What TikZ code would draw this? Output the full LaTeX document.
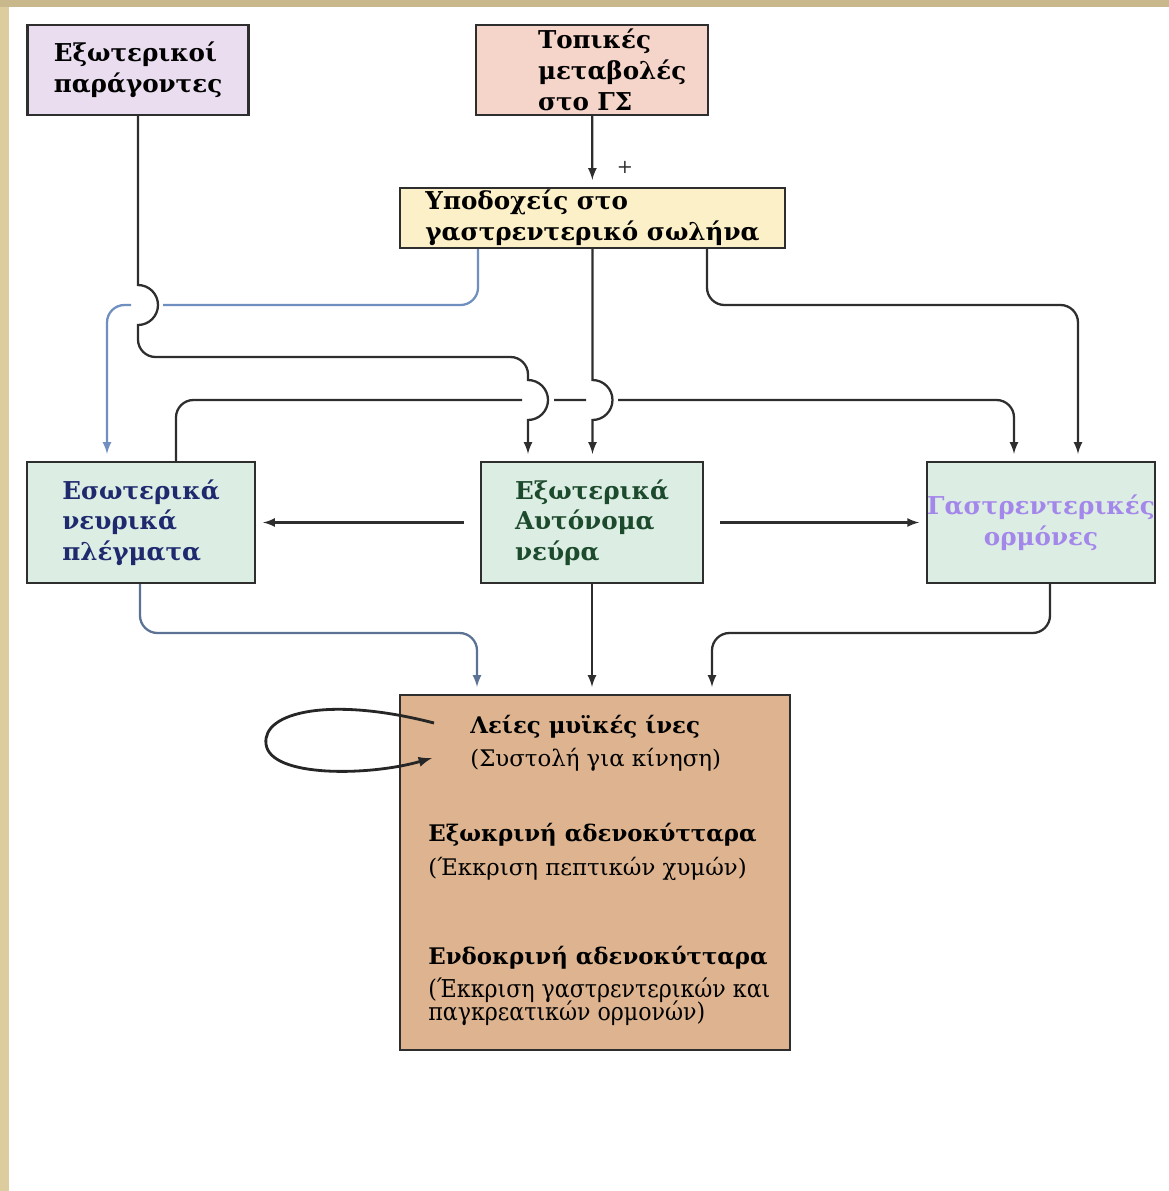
\documentclass[tikz,border=0pt]{standalone}
\usepackage{fontspec}
\setmainfont{DejaVu Serif}
\newfontfamily\condfont{DejaVu Serif Condensed}

\definecolor{frametop}{HTML}{C8B88C}
\definecolor{frameleft}{HTML}{DCCC9E}
\definecolor{extfill}{HTML}{E9DDEF}
\definecolor{localfill}{HTML}{F5D4C9}
\definecolor{recfill}{HTML}{FBF0C8}
\definecolor{nervefill}{HTML}{DCEDE3}
\definecolor{targetfill}{HTML}{DDB48F}
\definecolor{navytext}{HTML}{1F2A6E}
\definecolor{greentext}{HTML}{1C4A2C}
\definecolor{violettext}{HTML}{A487EA}
\definecolor{blueline}{HTML}{6F8FC0}
\definecolor{darkline}{HTML}{2E2E2E}

\tikzstyle{box}=[draw=darkline, line width=1.3pt, inner sep=0pt, align=left,
  font=\fontsize{14}{17.5}\selectfont\bfseries]
\tikzstyle{dep}=[-latex, line width=1.3pt, draw=darkline, shorten >=4pt, rounded corners=0.35cm]
\tikzstyle{bluedep}=[dep, draw=blueline]
\tikzstyle{head}=[anchor=west, inner sep=0pt, font=\fontsize{13}{16}\selectfont\bfseries]
\tikzstyle{sub}=[anchor=west, inner sep=0pt, font=\fontsize{13}{16}\selectfont]
\tikzstyle{smallsub}=[anchor=west, inner sep=0pt, font=\fontsize{14}{16}\selectfont\condfont]

\begin{document}
\begin{tikzpicture}[x=0.02cm, y=-0.02cm]
      \useasboundingbox (0,0) rectangle (1169,1191);
      \fill[frameleft] (0,0) rectangle (9,1191);
      \fill[frametop] (0,0) rectangle (1169,7);

      % top row
      \node[box, fill=extfill, minimum width=4.42cm, minimum height=1.8cm] (ext) at (138,70) {Εξωτερικοί\\παράγοντες};
      \node[box, fill=localfill, text width=2.16cm, minimum width=4.64cm, minimum height=1.8cm] (local) at (592,70) {Τοπικές\\μεταβολές\\στο ΓΣ};
      \node[box, fill=recfill, minimum width=7.7cm, minimum height=1.2cm] (recept) at (592.5,218) {Υποδοχείς στο\\γαστρεντερικό σωλήνα};

      % middle row
      \node[box, fill=nervefill, text=navytext, minimum width=4.56cm, minimum height=2.42cm] (enteric) at (141,522.5) {Εσωτερικά\\νευρικά\\πλέγματα};
      \node[box, fill=nervefill, text=greentext, minimum width=4.44cm, minimum height=2.42cm] (auton) at (592,522.5) {Εξωτερικά\\Αυτόνομα\\νεύρα};
      \node[box, fill=nervefill, text=violettext, align=center, minimum width=4.36cm, minimum height=2.42cm] (horm) at (1041,522.5) {Γαστρεντερικές\\ορμόνες};

      % target cells
      \node[box, fill=targetfill, minimum width=7.8cm, minimum height=7.1cm] (target) at (595,872.5) {};
      \node[head] (smooth) at (470,727) {Λείες μυϊκές ίνες};
      \node[sub] (smoothsub) at (470,760) {(Συστολή για κίνηση)};
      \node[head] (exo) at (428,835) {Εξωκρινή αδενοκύτταρα};
      \node[sub] (exosub) at (428,869) {(Έκκριση πεπτικών χυμών)};
      \node[head] (endo) at (428,958) {Ενδοκρινή αδενοκύτταρα};
      \node[smallsub] (endosub) at (428,990) {(Έκκριση γαστρεντερικών και};
      \node[smallsub] (endosubb) at (428,1013) {παγκρεατικών ορμονών)};

      % connectors
      \draw[dep] (local) -- (recept) node[pos=0.72, right=0.35cm, font=\fontsize{11}{11}\selectfont, text=darkline] (plus) {+};
      \draw[bluedep] ([xshift=-2.29cm]recept.south) |- (163,305) (131,305) -| ([xshift=-0.68cm]enteric.north);
      \draw[dep] ([xshift=2.29cm]recept.south) |- (1078,305) -- ([xshift=0.74cm]horm.north);
      \draw[dep] ([xshift=0.7cm]enteric.north) |- (522,400) (554,400) -- (586,400) (618,400) -| ([xshift=-0.54cm]horm.north);
      \draw[dep, sharp corners] (ext.south) -- (138,285) arc[start angle=90, end angle=-90, radius=0.4cm]
        -- (138,339.5) arc[start angle=180, end angle=270, radius=0.35cm]
        -- (510.5,357) arc[start angle=90, end angle=0, radius=0.35cm]
        -- (528,380) arc[start angle=90, end angle=-90, radius=0.4cm]
        -- ([xshift=-1.28cm]auton.north);
      \draw[dep, sharp corners] (recept.south) -- (592.5,380) arc[start angle=90, end angle=-90, radius=0.4cm]
        -- (recept.south |- auton.north);
      \draw[dep, shorten <=9pt] (auton.west) -- (enteric.east);
      \draw[dep, shorten <=9pt] (auton.east) -- (horm.west);
      \draw[bluedep, draw=blueline!70!darkline] ([xshift=-0.02cm]enteric.south) |- (477,633) -- ([xshift=-2.36cm]target.north);
      \draw[dep] (auton.south) -- (auton.south |- target.north);
      \draw[dep] ([xshift=0.18cm]horm.south) |- (712,633) -- ([xshift=2.34cm]target.north);

      % loop at the muscle cells
      \coordinate (loopout) at (434,723);
      \coordinate (loopin) at (432,758);
      \draw[-latex, line width=1.6pt, draw=black!85] (loopout) .. controls (330,696) and (262,712) .. (266,744)
        .. controls (270,778) and (370,776) .. (loopin);
    \end{tikzpicture}
\end{document}
